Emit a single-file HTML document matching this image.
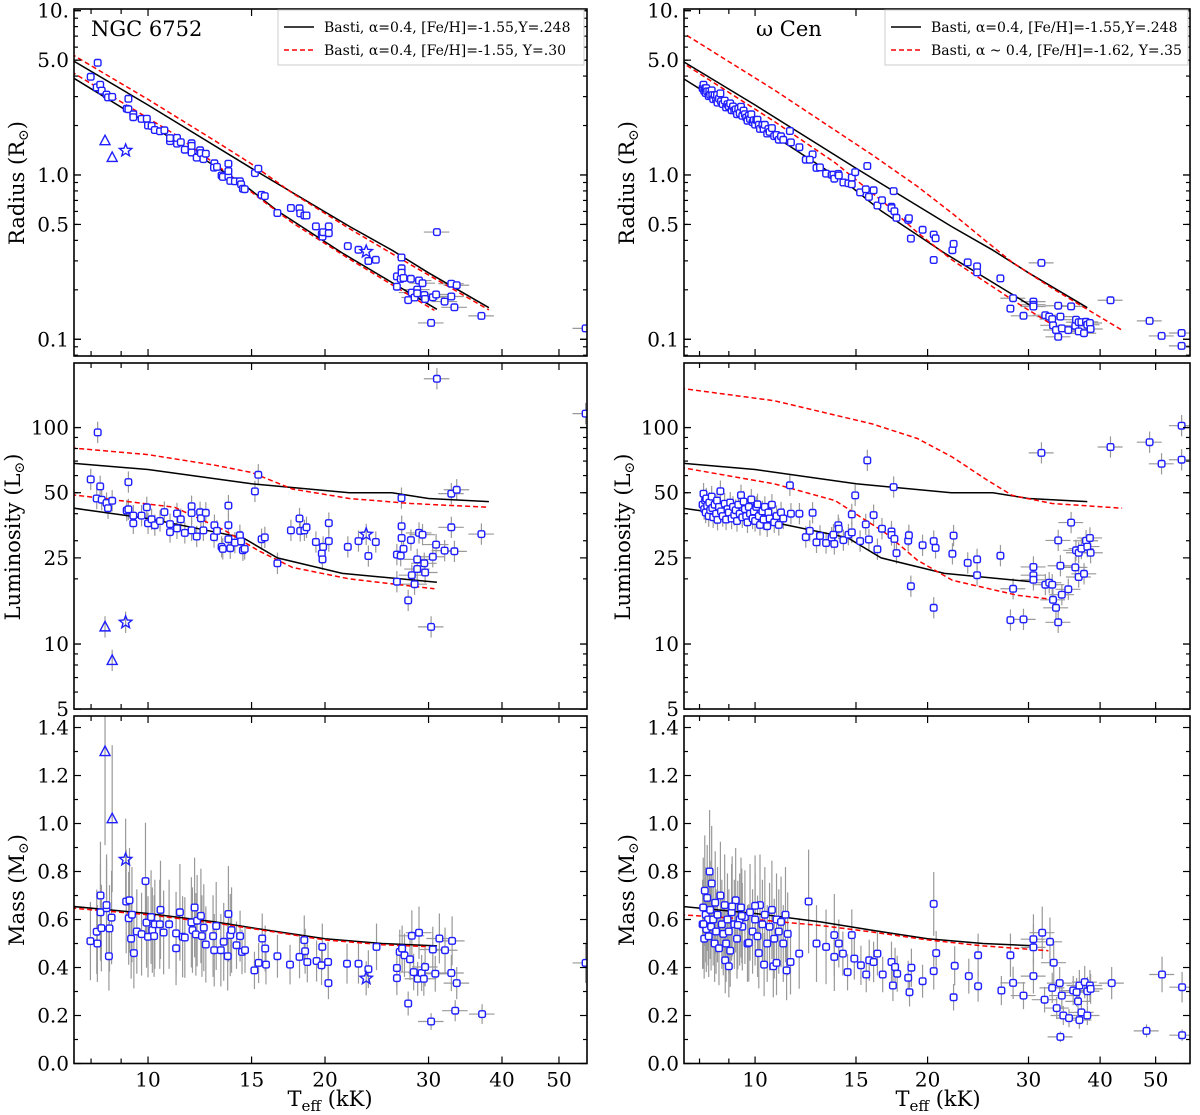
<!DOCTYPE html>
<html><head><meta charset="utf-8"><style>
html,body{margin:0;padding:0;background:#fff;}
svg{display:block;font-family:"DejaVu Serif","Liberation Serif",serif;}
</style></head><body>
<svg id="fig" width="1200" height="1115" viewBox="0 0 1200 1115" xmlns="http://www.w3.org/2000/svg"></svg>
<script>
// ---------- DATA: NGC 6752 ----------
const ngcLumT=[8.21,7.99,8.18,8.29,8.34,8.5,8.55,8.69,9.26,9.2,9.26,9.44,9.44,9.75,9.95,10.0,10.14,10.27,10.48,10.66,10.9,10.9,11.2,11.2,11.37,11.55,11.86,11.86,11.86,12.1,12.26,12.3,12.42,12.54,12.97,12.95,13.1,13.34,13.4,13.7,13.7,13.7,13.8,14.05,14.33,14.4,14.5,14.6,15.2,15.4,15.6,15.8,16.6,17.5,18.1,18.15,18.45,18.6,19.3,19.75,19.8,19.85,20.3,20.3,21.87,22.8,23.7,24.4,26.5,26.98,26.5,26.9,27.0,27.0,27.2,27.7,28.0,28.1,28.4,28.7,28.7,28.9,29.3,29.5,29.6,30.3,30.5,30.9,31.0,31.95,32.8,32.8,33.5,33.2,36.9,55.5];
const ngcLum=[95,57.6,47,53.5,46.4,44.8,42.4,45.9,56,41.4,41.9,39.2,36.1,39.2,42.8,36.1,37.7,35.4,37,40.7,32.9,35.8,34.2,40.1,37.7,32.6,43.3,40.3,33.5,31.4,40.6,38.1,33.5,40.4,35.4,31.2,33.3,28.1,27.5,30.5,43.6,35.4,27.7,29.4,31.8,29.8,27.1,27.5,50.7,60.5,30.5,31.1,23.6,33.5,38,33.3,33.5,34.6,29.6,26.2,24.6,28.1,29.9,36.2,28.1,29.9,25.5,29.6,19.4,47.2,25.9,25.6,35,30.9,27.5,15.9,30.2,20.8,18.9,24.6,22.2,32.6,32,23.6,21.4,12,25.3,28.8,168,27,49.5,34.6,51.6,26.8,32.2,116];
const ngcMassT=[7.98,8.18,8.2,8.3,8.33,8.5,8.58,8.6,8.67,9.18,9.27,9.36,9.39,9.46,9.57,9.75,9.94,10,10.12,10.17,10.24,10.27,10.47,10.63,10.86,11.16,11.16,11.33,11.45,11.55,11.85,11.9,12.06,12.12,12.3,12.35,12.44,12.54,12.9,13.06,12.96,13.3,13.45,13.66,13.7,13.8,13.87,14.14,14.34,14.45,14.62,15.17,15.42,15.64,15.82,15.87,16.6,17.44,18.1,18.44,18.5,18.66,19.35,19.73,19.79,20.24,20.27,21.8,22.8,23.7,24.47,26.5,26.5,26.8,27.05,27.3,27.9,27.7,28.1,28.3,28.75,28.9,29.2,29.45,29.6,30.3,30.5,30.8,31.3,32.0,32.8,32.9,33.3,33.5,37,55.5,8.3,8.5,9.9,9.3,12.0,10.5];
const ngcMass=[0.51,0.549,0.5,0.63,0.564,0.647,0.447,0.563,0.608,0.675,0.605,0.52,0.62,0.46,0.55,0.539,0.587,0.528,0.61,0.556,0.531,0.58,0.58,0.546,0.58,0.542,0.48,0.63,0.528,0.525,0.588,0.556,0.538,0.595,0.615,0.531,0.566,0.496,0.531,0.573,0.472,0.472,0.507,0.447,0.623,0.535,0.556,0.493,0.531,0.465,0.472,0.388,0.419,0.521,0.479,0.412,0.447,0.412,0.444,0.514,0.468,0.423,0.427,0.409,0.486,0.423,0.335,0.416,0.416,0.393,0.486,0.398,0.356,0.465,0.479,0.451,0.434,0.25,0.532,0.381,0.353,0.545,0.377,0.353,0.402,0.175,0.475,0.374,0.521,0.472,0.377,0.511,0.22,0.335,0.206,0.419,0.70,0.66,0.76,0.68,0.65,0.64];
const ngcTriT=[8.45,8.69];
const ngcTriL=[12,8.4];
const ngcTriM=[1.30,1.02];
const ngcStarT=[9.16,23.5];
const ngcStarL=[12.6,32.1];
const ngcStarM=[0.85,0.355];

// ---------- DATA: omega Cen ----------
const wcLumT=[8.1,8.13,8.15,8.18,8.2,8.22,8.25,8.3,8.32,8.35,8.4,8.42,8.45,8.5,8.55,8.58,8.6,8.65,8.7,8.72,8.78,8.85,8.9,8.95,9.0,9.05,9.1,9.15,9.2,9.25,9.3,9.35,9.4,9.45,9.5,9.55,9.6,9.65,9.7,9.75,9.8,9.85,9.9,9.95,10.0,10.05,10.1,10.15,10.2,10.3,10.35,10.4,10.5,10.55,10.6,10.7,10.8,10.9,11.0,11.1,11.2,
11.5,11.55,11.95,12.6,12.26,12.46,12.8,12.98,13.3,13.6,13.7,13.75,13.97,14.0,14.26,14.55,14.75,14.75,14.95,15.25,15.7,15.6,15.8,16.1,16.35,16.65,17.3,17.3,17.45,17.5,17.65,18.5,18.55,18.7,19.6,20.5,20.5,20.65,22.1,22.2,23.5,24.4,24.4,26.8,28.2,27.9,29.4,30.6,30.6,30.6,31.6,32.1,32.6,33.0,33.1,33.5,33.8,33.8,34.1,34.3,35.2,35.6,36.2,36.3,36.7,36.7,37.1,37.5,37.8,38.0,38.4,38.5,41.7,48.8,51.2,55.5,55.5];
const wcLum=[44,49.5,42,46,40.5,47,43.5,39,45,41.5,48,42.5,38.5,44,40,46,37.5,43,50.8,41,39,44.5,37.6,42,40.5,45,38,43,39.5,41.5,37,44,40,48.7,38.5,45.5,42,39,36.5,43,40,46.5,38,41,37,43,44.2,39,35.5,41,37.6,43,35,40.5,38,44,36.5,39,35.5,40.5,38,
54.1,40,40,40.4,31.2,33.3,29.5,31.6,29.3,31,32,29,35.4,34.1,30.2,32,32.8,39.7,48.6,29.9,70.5,35.7,30.4,39.4,27.4,34.1,33.1,31.9,53.1,30.6,26.3,30,31.8,18.5,28.6,29.9,14.7,27.8,26.1,31.7,23.7,24.6,20.8,25.6,18,12.9,13,22.7,20.8,19.8,76.4,18.8,19.2,18.8,16,14.7,12.6,30.1,23,16.9,17.9,36.4,22.6,27.1,20.4,26.4,27.6,21.1,30,28.2,30.9,26.4,81.3,85.6,68,102,71];
const wcMassT=[8.1,8.12,8.15,8.17,8.2,8.22,8.25,8.28,8.3,8.33,8.35,8.38,8.4,8.45,8.5,8.52,8.55,8.6,8.65,8.7,8.75,8.8,8.85,8.9,8.95,9.0,9.05,9.1,9.2,9.25,9.3,9.4,9.45,9.5,9.6,9.7,9.8,9.9,10.0,10.1,10.2,10.3,10.4,10.5,10.6,10.7,10.8,10.9,11.0,11.1,11.2,11.3,11.4,
8.13,8.87,9.0,9.12,9.33,9.48,9.75,10.0,10.15,10.37,10.76,10.9,11.35,11.53,11.94,12.4,12.8,13.3,13.75,13.75,14.0,14.23,14.5,14.75,14.9,15.3,15.63,15.82,16.1,16.35,16.7,17.3,17.4,17.55,17.7,18.5,18.6,18.74,19.6,20.5,20.5,20.7,22.2,22.3,23.6,24.5,24.5,26.9,27.9,28.2,29.4,30.6,30.6,30.6,31.7,32.0,32.7,33.0,33.2,33.6,34.0,34.1,34.3,34.5,35.3,35.9,36.4,36.6,36.8,36.8,37.1,37.6,38.0,38.0,38.4,38.5,41.9,48.2,51.3,55.6,55.6];
const wcMass=[0.58,0.65,0.52,0.72,0.62,0.56,0.69,0.6,0.53,0.8,0.64,0.57,0.75,0.6,0.5,0.67,0.55,0.62,0.48,0.7,0.58,0.54,0.66,0.5,0.6,0.55,0.47,0.63,0.58,0.68,0.52,0.6,0.65,0.57,0.61,0.5,0.63,0.55,0.6,0.53,0.66,0.58,0.62,0.5,0.57,0.64,0.52,0.6,0.55,0.59,0.5,0.62,0.54,
0.581,0.43,0.405,0.654,0.577,0.615,0.503,0.657,0.46,0.412,0.405,0.419,0.388,0.423,0.458,0.675,0.5,0.486,0.535,0.444,0.5,0.458,0.381,0.535,0.437,0.409,0.371,0.43,0.423,0.458,0.371,0.423,0.325,0.402,0.374,0.357,0.297,0.399,0.343,0.385,0.665,0.46,0.276,0.407,0.364,0.451,0.322,0.304,0.451,0.336,0.283,0.518,0.484,0.364,0.545,0.266,0.507,0.315,0.42,0.231,0.335,0.111,0.283,0.2,0.189,0.304,0.297,0.259,0.325,0.181,0.213,0.339,0.2,0.301,0.325,0.311,0.335,0.136,0.371,0.318,0.118];

// ---------- MODELS (BaSTI tracks) ----------
const ngcBlkUpT=[7.4,10,15,22,26,30,38];
const ngcBlkUpL=[68.5,64,55,50,50,47,45.5];
const ngcBlkLoT=[7.4,10,14.5,16.6,21.4,31];
const ngcBlkLoL=[42.6,38,31,25,21.2,19.3];
const ngcRedUpT=[7.4,10,13,15,17.6,22,28,38];
const ngcRedUpL=[80.5,75,67,62,52,47,44.6,42.8];
const ngcRedLoT=[7.4,11.1,13.5,15.4,17.6,22,30.7];
const ngcRedLoL=[49,42.8,33.5,27,22.6,20,18];
const wcRedUpT=[7.4,10.8,16,19.2,22.1,25.2,28.1,33,43.7];
const wcRedUpL=[152,133,104,89,73,58,48.6,44.6,42.4];
const wcRedLoT=[7.4,10.8,13.8,16.9,19.2,22.1,28.7,33];
const wcRedLoL=[65.5,55,46,32.5,24.4,19.7,16.8,16.1];
const massModT=[7.4,10,13,16,20,25,31];
const massBlk=[0.655,0.625,0.59,0.555,0.52,0.50,0.49];
const massRedNgc=[0.648,0.62,0.585,0.552,0.515,0.495,0.485];
const wcMassRedT=[7.4,10,13,16,20,25,32.5];
const wcMassRed=[0.62,0.6,0.575,0.548,0.515,0.49,0.47];

// tick label arrays
const xTickVals=[10,15,20,30,40,50];
const xMinorVals=[8,9];
const radTickVals=[0.1,0.5,1,5,10];
const radTickLbl=["0.1","0.5","1.0","5.0","10."];
const lumTickVals=[5,10,25,50,100];
const lumTickLbl=["5","10","25","50","100"];
const massTickVals=[0,0.2,0.4,0.6,0.8,1.0,1.2,1.4];
const massTickLbl=["0.0","0.2","0.4","0.6","0.8","1.0","1.2","1.4"];

const NS="http://www.w3.org/2000/svg";
const svg=document.getElementById('fig');
function mk(tag,attrs,parent){const e=document.createElementNS(NS,tag);for(const k in attrs)e.setAttribute(k,attrs[k]);(parent||svg).appendChild(e);return e;}
const radiusOf=(T,L)=>Math.sqrt(L)/Math.pow(T/5.772,2);
const BLUE="#1f1fff";

function makeAxes(o){
  o.sx=t=>o.x0+(Math.log10(t)-Math.log10(o.tmin))/(Math.log10(o.tmax)-Math.log10(o.tmin))*(o.x1-o.x0);
  o.sy=o.ylog?(v=>o.y1-(Math.log10(v)-Math.log10(o.ymin))/(Math.log10(o.ymax)-Math.log10(o.ymin))*(o.y1-o.y0))
            :(v=>o.y1-(v-o.ymin)/(o.ymax-o.ymin)*(o.y1-o.y0));
  const g=mk('g',{});
  
  
  o.g=g;
  const cp=mk('clipPath',{id:'clip-'+o.name},g);
  mk('rect',{x:o.x0,y:o.y0,width:o.x1-o.x0,height:o.y1-o.y0},cp);
  o.plot=mk('g',{'clip-path':'url(#clip-'+o.name+')'},g);
  return o;
}
function finishAxes(o){
  const g=o.g;
  const tk=mk('g',{stroke:'#000','stroke-width':1.2},g);
  const xt=(t,len)=>{const x=o.sx(t);mk('line',{x1:x,x2:x,y1:o.y1,y2:o.y1-len},tk);mk('line',{x1:x,x2:x,y1:o.y0,y2:o.y0+len},tk);};
  xTickVals.forEach(t=>xt(t,7));xMinorVals.forEach(t=>xt(t,5));
  const yt=(v,len)=>{const y=o.sy(v);if(y<o.y0-0.5||y>o.y1+0.5)return;mk('line',{x1:o.x0,x2:o.x0+len,y1:y,y2:y},tk);mk('line',{x1:o.x1,x2:o.x1-len,y1:y,y2:y},tk);};
  if(o.ylog){
    for(let d=-2;d<=3;d++)for(let m=1;m<10;m++){const v=m*Math.pow(10,d);if(v<o.ymin*0.999||v>o.ymax)continue;yt(v,m===1?7:4);}
    o.yticks.forEach(v=>yt(v,7));
  }else{
    for(let i=0;i<=14;i++){yt(i*0.1,i%2===0?7:4);}
  }
  mk('rect',{x:o.x0,y:o.y0,width:o.x1-o.x0,height:o.y1-o.y0,fill:'none',stroke:'#000','stroke-width':1.6},g);
  o.yticks.forEach((v,i)=>{const t=mk('text',{x:o.x0-5,y:o.sy(v)+7,'text-anchor':'end','font-size':20,fill:'#000'},g);t.textContent=o.ylbl[i];
    
    });
  if(o.xlabels){xTickVals.forEach(v=>{const t=mk('text',{x:o.sx(v),y:o.y1+23,'text-anchor':'middle','font-size':20,fill:'#000'},g);t.textContent=String(v);
    
    });}
}
function curve(o,T,Y,color,dash,fn){
  const pts=T.map((t,i)=>o.sx(t).toFixed(1)+','+o.sy(fn?fn(t,Y[i]):Y[i]).toFixed(1)).join(' ');
  const p=mk('polyline',{points:pts,fill:'none',stroke:color,'stroke-width':1.5,'stroke-dasharray':dash||'none'},o.plot);
  
  
}
function errs(o,T,V,rel,xrel){
  const g=mk('g',{stroke:'#999','stroke-width':1.2},o.plot);
  T.forEach((t,i)=>{const x=o.sx(t),v=V[i];
    const r=typeof rel==='function'?rel(t,v):rel;
    const ya=o.ylog?o.sy(v*(1+r)):o.sy(v+r*v), yb=o.ylog?o.sy(v/(1+r)):o.sy(v-r*v);
    mk('line',{x1:x,x2:x,y1:ya,y2:yb},g);
    if(t>28&&xrel){mk('line',{x1:o.sx(t*(1-xrel)),x2:o.sx(t*(1+xrel)),y1:o.sy(v),y2:o.sy(v)},g);}
  });
}
function squares(o,T,V){
  const g=mk('g',{fill:'#fff',stroke:BLUE,'stroke-width':1.4},o.plot);
  T.forEach((t,i)=>{const r=mk('rect',{x:(o.sx(t)-3.3).toFixed(1),y:(o.sy(V[i])-3.3).toFixed(1),width:6.6,height:6.6,rx:1.6},g);
    
    });
}
function tris(o,T,V){
  T.forEach((t,i)=>{const x=o.sx(t),y=o.sy(V[i]);
    const p=mk('polygon',{points:`${x},${y-5.5} ${x-5},${y+4} ${x+5},${y+4}`,fill:'none',stroke:BLUE,'stroke-width':1.4},o.plot);
    
    });
}
function stars(o,T,V){
  T.forEach((t,i)=>{const x=o.sx(t),y=o.sy(V[i]);let pts=[];
    for(let k=0;k<10;k++){const a=-Math.PI/2+k*Math.PI/5,r=k%2?2.8:6.5;pts.push((x+r*Math.cos(a)).toFixed(1)+','+(y+r*Math.sin(a)).toFixed(1));}
    const p=mk('polygon',{points:pts.join(' '),fill:'none',stroke:BLUE,'stroke-width':1.4},o.plot);
    
    });
}
function ylabel(x,y,main,sub){
  const t=mk('text',{x:x,y:y,transform:`rotate(-90 ${x} ${y})`,'text-anchor':'middle','font-size':21,fill:'#000'});
  
  
  t.appendChild(document.createTextNode(main+' (R'));
  t.lastChild.nodeValue=main+' ('+sub[0];
  const s=mk('tspan',{'font-size':14,dy:4},t);s.textContent='\u2299';
  const s2=mk('tspan',{dy:-4},t);s2.textContent=')';
}
function xlabel(x,y){
  const t=mk('text',{x:x,y:y,'text-anchor':'middle','font-size':21,fill:'#000'});
  
  
  t.appendChild(document.createTextNode('T'));
  const s=mk('tspan',{'font-size':15,dy:5},t);s.textContent='eff';
  const s2=mk('tspan',{dy:-5},t);s2.textContent=' (kK)';
}
function legend(x0,y0,w,l1,l2){
  const g=mk('g',{});
  
  
  mk('rect',{x:x0,y:y0,width:w,height:55,fill:'#fff',stroke:'#ccc','stroke-width':1},g);
  mk('line',{x1:x0+6,x2:x0+36,y1:y0+17,y2:y0+17,stroke:'#000','stroke-width':1.5},g);
  mk('line',{x1:x0+6,x2:x0+36,y1:y0+40,y2:y0+40,stroke:'#f00','stroke-width':1.5,'stroke-dasharray':'5,3'},g);
  const t1=mk('text',{x:x0+46,y:y0+22,'font-size':14,fill:'#000'},g);t1.textContent=l1;
  
  
  const t2=mk('text',{x:x0+46,y:y0+45,'font-size':14,fill:'#000'},g);t2.textContent=l2;
  
  
}

const LX={x0:74,x1:587,tmin:7.483,tmax:55.8}, RX={x0:684,x1:1190,tmin:7.516,tmax:57.4};
const TOP={y0:9,y1:356,ylog:true,ymin:0.0791,ymax:10.24,yticks:radTickVals,ylbl:radTickLbl};
const MID={y0:363,y1:709,ylog:true,ymin:5.01,ymax:198.7,yticks:lumTickVals,ylbl:lumTickLbl};
const BOT={y0:716,y1:1063.5,ylog:false,ymin:0,ymax:1.448,yticks:massTickVals,ylbl:massTickLbl,xlabels:true};

function cluster(X,c){
  // radius
  const a=makeAxes(Object.assign({name:c.key+'-radius-panel'},X,TOP));
  errs(a,c.lT,c.lT.map((t,i)=>radiusOf(t,c.l[i])),0.03,0.05);
  c.models.forEach(m=>curve(a,m[0],m[1],m[2],m[3],radiusOf));
  squares(a,c.lT,c.lT.map((t,i)=>radiusOf(t,c.l[i])));
  if(c.triT){tris(a,c.triT,c.triT.map((t,i)=>radiusOf(t,c.triL[i])));stars(a,c.starT,c.starT.map((t,i)=>radiusOf(t,c.starL[i])));}
  finishAxes(a);
  // luminosity
  const b=makeAxes(Object.assign({name:c.key+'-luminosity-panel'},X,MID));
  errs(b,c.lT,c.l,0.12,0.05);
  if(c.triT){errs(b,c.triT,c.triL,0.12,0);errs(b,c.starT,c.starL,0.12,0);}
  c.models.forEach(m=>curve(b,m[0],m[1],m[2],m[3]));
  squares(b,c.lT,c.l);
  if(c.triT){tris(b,c.triT,c.triL);stars(b,c.starT,c.starL);}
  finishAxes(b);
  // mass
  const d=makeAxes(Object.assign({name:c.key+'-mass-panel'},X,BOT));
  errs(d,c.mT,c.m,(t,v)=>t<14?0.32:0.2,0.05);
  if(c.triT){errs(d,c.triT,c.triM,0.3,0);errs(d,c.starT,c.starM,0.2,0);}
  curve(d,massModT,massBlk,'#000',null);
  curve(d,c.mRedT,c.mRed,'#f00','5,3');
  squares(d,c.mT,c.m);
  if(c.triT){tris(d,c.triT,c.triM);stars(d,c.starT,c.starM);}
  finishAxes(d);
}

cluster(LX,{key:'ngc6752',lT:ngcLumT,l:ngcLum,mT:ngcMassT,m:ngcMass,
  triT:ngcTriT,triL:ngcTriL,triM:ngcTriM,starT:ngcStarT,starL:ngcStarL,starM:ngcStarM,
  mRedT:massModT,mRed:massRedNgc,
  models:[[ngcBlkUpT,ngcBlkUpL,'#000',null],[ngcBlkLoT,ngcBlkLoL,'#000',null],[ngcRedUpT,ngcRedUpL,'#f00','5,3'],[ngcRedLoT,ngcRedLoL,'#f00','5,3']]});
cluster(RX,{key:'omega-cen',lT:wcLumT,l:wcLum,mT:wcMassT,m:wcMass,
  mRedT:wcMassRedT,mRed:wcMassRed,
  models:[[ngcBlkUpT,ngcBlkUpL,'#000',null],[ngcBlkLoT,ngcBlkLoL,'#000',null],[wcRedUpT,wcRedUpL,'#f00','5,3'],[wcRedLoT,wcRedLoL,'#f00','5,3']]});

legend(278,10,306,'Basti, \u03b1=0.4, [Fe/H]=-1.55,Y=.248','Basti, \u03b1=0.4, [Fe/H]=-1.55, Y=.30');
legend(885,10,303,'Basti, \u03b1=0.4, [Fe/H]=-1.55,Y=.248','Basti, \u03b1 ~ 0.4, [Fe/H]=-1.62, Y=.35');
const t1=mk('text',{x:91,y:36,'font-size':21,fill:'#000'});t1.textContent='NGC 6752';


const t2=mk('text',{x:756,y:36,'font-size':21,fill:'#000'});t2.textContent='\u03c9 Cen';


ylabel(24,183,'Radius','R');ylabel(20,537,'Luminosity','L');ylabel(24,890,'Mass','M');
ylabel(634,183,'Radius','R');ylabel(630,537,'Luminosity','L');ylabel(634,890,'Mass','M');
xlabel(330,1106);xlabel(938,1106);
</script>
</body></html>
